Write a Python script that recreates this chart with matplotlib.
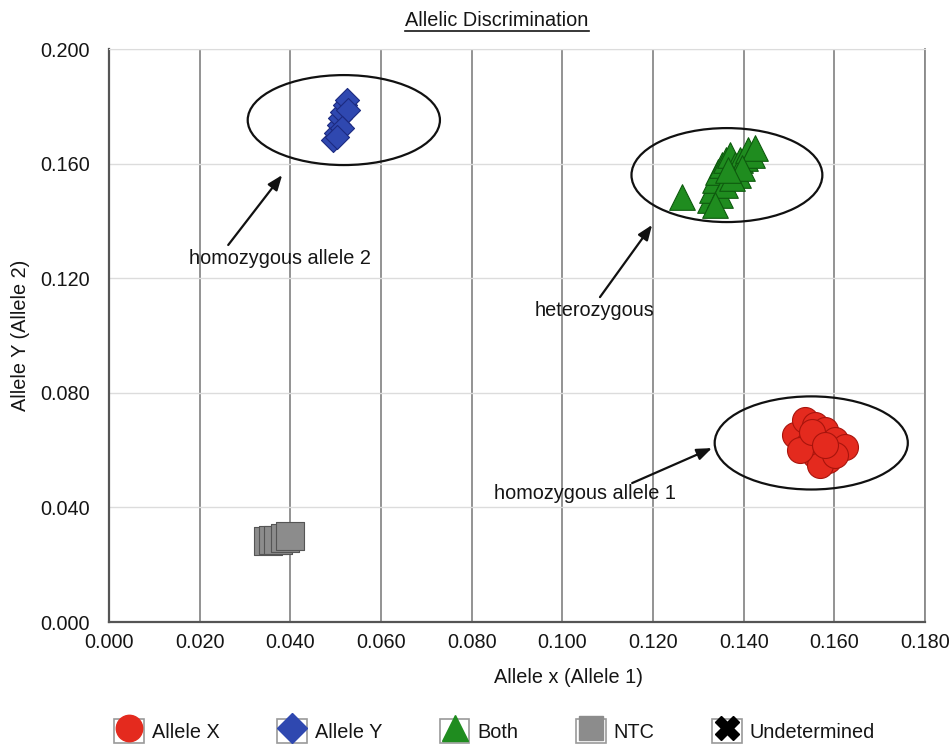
import matplotlib
matplotlib.use("Agg")
import matplotlib.pyplot as plt
from matplotlib.patches import Ellipse, Rectangle
from matplotlib.lines import Line2D
from matplotlib.legend_handler import HandlerTuple

plt.rcParams["font.family"] = ["Liberation Sans", "DejaVu Sans"]

# allele X (homozygous allele 1)
allele_x_x = [0.1513, 0.1535, 0.1557, 0.1580, 0.1602, 0.1624, 0.1542, 0.1557,
              0.1586, 0.1568, 0.1524, 0.1602, 0.1551, 0.1580]
allele_x_y = [0.0653, 0.0705, 0.0688, 0.0670, 0.0635, 0.0611, 0.0618, 0.0583,
              0.0565, 0.0548, 0.0600, 0.0583, 0.0663, 0.0618]

# allele Y (homozygous allele 2)
allele_y_x = [0.0494, 0.0500, 0.0507, 0.0509, 0.0515, 0.0520, 0.0524, 0.0527, 0.0513, 0.0504]
allele_y_y = [0.1682, 0.1707, 0.1735, 0.1759, 0.1780, 0.1804, 0.1822, 0.1787, 0.1724, 0.1693]

# both (heterozygous)
both_x = [0.1264, 0.1326, 0.1330, 0.1337, 0.1343, 0.1352, 0.1361, 0.1370, 0.1381, 0.1388,
          0.1392, 0.1403, 0.1410, 0.1418, 0.1425, 0.1348, 0.1359, 0.1374, 0.1396, 0.1337, 0.1366]
both_y = [0.1483, 0.1473, 0.1508, 0.1543, 0.1571, 0.1595, 0.1613, 0.1630, 0.1595, 0.1560,
          0.1613, 0.1620, 0.1648, 0.1630, 0.1654, 0.1490, 0.1525, 0.1550, 0.1585, 0.1455, 0.1578]

# no template controls
ntc_x = [0.0351, 0.0362, 0.0373, 0.0388, 0.0399]
ntc_y = [0.0283, 0.0285, 0.0287, 0.0293, 0.0300]

x_ticks = [0.000, 0.020, 0.040, 0.060, 0.080, 0.100, 0.120, 0.140, 0.160, 0.180]
y_ticks = [0.000, 0.040, 0.080, 0.120, 0.160, 0.200]

red, red_edge = "#e42a1e", "#a8140c"
blue, blue_edge = "#2f48b0", "#1c2a80"
green, green_edge = "#1f8c1f", "#0e5a0e"
gray, gray_edge = "#8c8c8c", "#555555"
text_color = "#151515"
fs = 14.3

fig = plt.figure(figsize=(9.51, 7.45), dpi=100)
ax = fig.add_axes([0.1146, 0.1651, 0.8581, 0.7691])

ax.scatter(ntc_x, ntc_y, marker="s", s=380, c=gray, edgecolors=gray_edge, linewidths=0.8, zorder=3)
ax.scatter(allele_y_x, allele_y_y, marker="D", s=150, c=blue, edgecolors=blue_edge, linewidths=0.8, zorder=3)
ax.scatter(both_x, both_y, marker="^", s=340, c=green, edgecolors=green_edge, linewidths=0.8, zorder=3)
ax.scatter(allele_x_x, allele_x_y, marker="o", s=350, c=red, edgecolors=red_edge, linewidths=0.8, zorder=3)

# cluster ellipses
for cx, cy, w, h in [(0.0518, 0.1752, 0.0424, 0.0314),
                     (0.1363, 0.1560, 0.0421, 0.0328),
                     (0.1549, 0.0625, 0.0426, 0.0325)]:
    ax.add_patch(Ellipse((cx, cy), w, h, fill=False, edgecolor="#111111", lw=1.6, zorder=4))

# callouts
arrow = dict(arrowstyle="-|>,head_length=0.9,head_width=0.35", color="#111111", lw=1.6,
             shrinkA=0, shrinkB=0)
ax.annotate("", xy=(0.0382, 0.1560), xytext=(0.0263, 0.1316), arrowprops=arrow, zorder=5)
ax.annotate("", xy=(0.1198, 0.1386), xytext=(0.1083, 0.1134), arrowprops=arrow, zorder=5)
ax.annotate("", xy=(0.1330, 0.0607), xytext=(0.1154, 0.0485), arrowprops=arrow, zorder=5)
ax.text(0.0377, 0.1270, "homozygous allele 2", fontsize=fs, ha="center", va="center", color=text_color)
ax.text(0.1072, 0.1089, "heterozygous", fontsize=fs, ha="center", va="center", color=text_color)
ax.text(0.1050, 0.0447, "homozygous allele 1", fontsize=fs, ha="center", va="center", color=text_color)

ax.set_xlim(0, 0.18)
ax.set_ylim(0, 0.2)
ax.set_xticks(x_ticks)
ax.set_yticks(y_ticks)
ax.set_xticklabels([f"{v:.3f}" for v in x_ticks])
ax.set_yticklabels([f"{v:.3f}" for v in y_ticks])
ax.tick_params(axis="x", length=0, pad=8, labelsize=fs, labelcolor=text_color)
ax.tick_params(axis="y", length=0, pad=14, labelsize=fs, labelcolor=text_color)

ax.xaxis.grid(True, color="#8a8a8a", lw=1.3)
ax.yaxis.grid(True, color="#dcdcdc", lw=1.0)
ax.set_axisbelow(True)
ax.spines["left"].set_color("#555555")
ax.spines["bottom"].set_color("#555555")
ax.spines["left"].set_linewidth(1.6)
ax.spines["bottom"].set_linewidth(1.6)
ax.spines["top"].set_color("#dcdcdc")
ax.spines["right"].set_color("#8a8a8a")
ax.spines["right"].set_linewidth(1.3)

ax.set_xlabel("Allele x (Allele 1)", fontsize=fs, color=text_color)
ax.xaxis.set_label_coords(0.5625, -0.081)
ax.set_ylabel("Allele Y (Allele 2)", fontsize=fs, color=text_color)
ax.yaxis.set_label_coords(-0.097, 0.5)

title = fig.text(497 / 951, 1 - 20 / 745, "Allelic Discrimination", fontsize=fs,
                 ha="center", va="center", color=text_color)
fig.canvas.draw()
bb = title.get_window_extent()
fig.add_artist(Line2D([bb.x0 / 951, bb.x1 / 951], [(bb.y0 - 1) / 745] * 2,
                      color=text_color, lw=1.2, transform=fig.transFigure))

# legend with boxed markers
def boxed(marker, face, edge, size):
    box = Rectangle((0, 0), 1, 1, facecolor="white", edgecolor="#9a9a9a", lw=1.2)
    mk = Line2D([], [], marker=marker, ls="none", markersize=size,
                markerfacecolor=face, markeredgecolor=edge)
    return (box, mk)

handles = [boxed("o", red, red, 19), boxed("D", blue, blue, 15), boxed("^", green, green, 19),
           boxed("s", gray, gray, 17), boxed("X", "black", "black", 17)]
labels = ["Allele X", "Allele Y", "Both", "NTC", "Undetermined"]
fig.legend(handles, labels, handler_map={tuple: HandlerTuple(ndivide=1, pad=0)},
           loc="center", bbox_to_anchor=(0.52, 1 - 731 / 745), ncol=5, frameon=False,
           fontsize=fs, handlelength=1.5, handleheight=1.5, handletextpad=0.4,
           columnspacing=2.9, labelcolor=text_color)

fig.savefig("out.png", dpi=100, facecolor="white")
